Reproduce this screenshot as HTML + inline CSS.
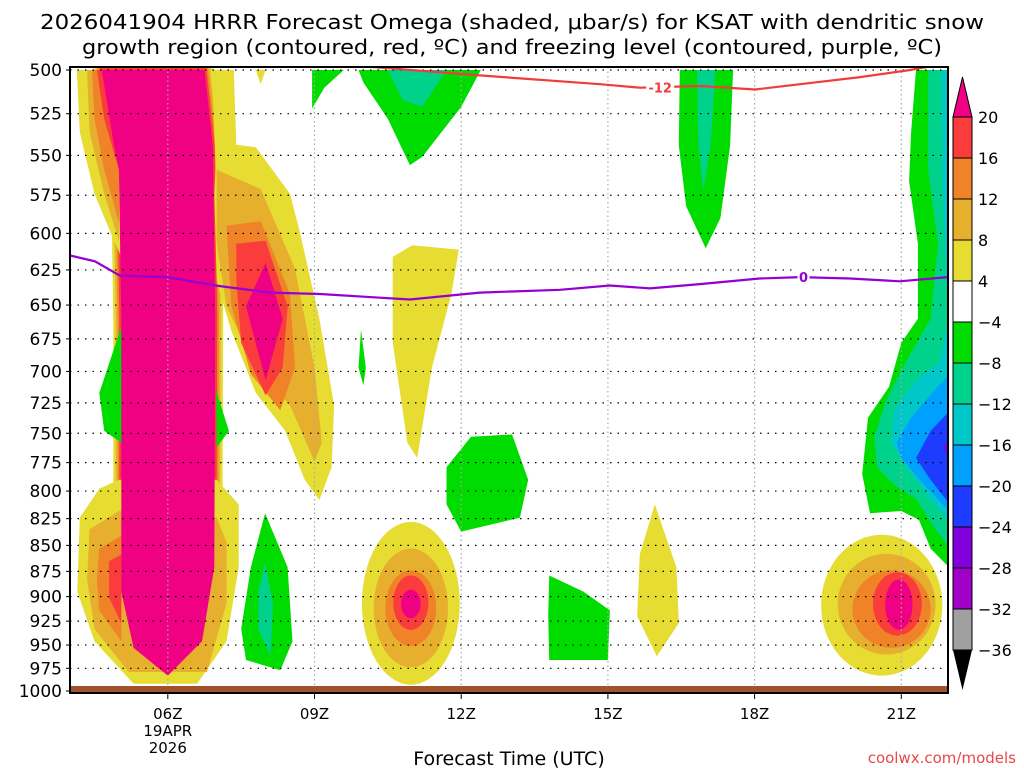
<!DOCTYPE html>
<html><head><meta charset="utf-8"><style>
html,body{margin:0;padding:0;background:#fff;width:1024px;height:768px;overflow:hidden}
svg{display:block}
text{font-family:"DejaVu Sans","Liberation Sans",sans-serif}
</style></head><body>
<svg id="chart" width="1024" height="768" viewBox="0 0 1024 768" xmlns="http://www.w3.org/2000/svg">
<defs><clipPath id="plotclip"><rect x="70" y="67" width="878" height="626"/></clipPath></defs>
<text x="512" y="29" font-size="20" text-anchor="middle" textLength="944" lengthAdjust="spacingAndGlyphs">2026041904 HRRR Forecast Omega (shaded, μbar/s) for KSAT with dendritic snow</text>
<text x="512" y="54" font-size="20" text-anchor="middle" textLength="860" lengthAdjust="spacingAndGlyphs">growth region (contoured, red, ºC) and freezing level (contoured, purple, ºC)</text>
<g id="shades" clip-path="url(#plotclip)"></g>
<g id="grid"></g>
<g id="lines" clip-path="url(#plotclip)"></g>
<rect x="70" y="686" width="878" height="7" fill="#a0522d"/>
<rect x="70" y="67" width="878" height="626" fill="none" stroke="#000" stroke-width="2"/>
<g id="axes"></g>
<g id="cbar"></g>
<text x="509" y="765" font-size="19" text-anchor="middle" font-family="Liberation Sans, sans-serif">Forecast Time (UTC)</text>
<text x="1016" y="763" font-size="15" text-anchor="end" fill="#e84848" font-family="Liberation Sans, sans-serif">coolwx.com/models</text>
</svg>
<script>
// ---- data ----
const pressureTicks = [500,525,550,575,600,625,650,675,700,725,750,775,800,825,850,875,900,925,950,975,1000];
const timeTickHours = [6,9,12,15,18,21];
const timeTickLabels = ["06Z","09Z","12Z","15Z","18Z","21Z"];
const cbarLevels = [20,16,12,8,4,-4,-8,-12,-16,-20,-24,-28,-32,-36];
const cbarColors = ["#fa3c3c","#f08228","#e6af2d","#e6dc32","#ffffff","#00dc00","#00d28c","#00c8c8","#00a0ff","#1e3cff","#8200dc","#a000c8","#a0a0a0"];
const freezingHours = [4.0,4.51,5.02,5.98,6.97,8.09,9.11,10.95,12.38,14.02,15.04,15.86,16.88,18.1,18.93,19.95,20.97,21.95];
const freezingP =     [615,619,629,630,636,641,642,646,641,639,636,638,635,631,630,631,633,630];
const dgzHours = [10.03,12.38,14.84,15.66,16.88,18.01,18.93,20.16,21.18,21.59];
const dgzP =     [498,503,508,510,509,511,508,504,500,498];
const colorByKey = {y:"#e6dc32",lo:"#e6af2d",o:"#f08228",r:"#fa3c3c",p:"#f00082",g:"#00dc00",t1:"#00d28c",t2:"#00c8c8",b1:"#00a0ff",b2:"#1e3cff",pu:"#8200dc"};
// polygons in (hour since 00Z, hPa)
const polyShades = [
 ["y",[[4.14,500],[5.0,500],[5.05,616],[4.9,605],[4.5,574],[4.2,536]]],
 ["lo",[[4.35,500],[5,500],[5,605],[4.7,574],[4.4,536]]],
 ["o",[[4.45,500],[5,500],[5,593],[4.7,559],[4.5,528]]],
 ["r",[[4.55,500],[5,500],[5,559],[4.7,528]]],
 ["y",[[6.9,500],[7.35,500],[7.4,544],[7.0,574]]],
 ["y",[[7.0,542],[7.8,545],[8.5,574],[8.7,599],[9.1,660],[9.4,727],[9.35,779],[9.1,808],[8.8,790],[8.4,748],[7.8,717],[7.3,669],[7.0,633],[6.95,574]]],
 ["lo",[[7.0,559],[7.9,571],[8.6,624],[9.0,697],[9.15,758],[9.0,774],[8.5,727],[7.8,697],[7.2,651],[7.0,607]]],
 ["o",[[7.2,595],[7.9,592],[8.5,642],[8.6,697],[8.3,731],[7.7,702],[7.3,651]]],
 ["r",[[7.4,607],[8.0,605],[8.45,651],[8.35,697],[8.0,719],[7.5,678],[7.4,633]]],
 ["p",[[7.6,651],[8.0,620],[8.35,660],[8.0,707]]],
 ["y",[[4.2,824],[4.6,798],[5.0,790],[7.0,790],[7.45,812],[7.45,871],[7.2,946],[6.6,992],[5.3,992],[4.5,946],[4.15,895]]],
 ["lo",[[4.4,835],[5,818],[7,824],[7.2,847],[7.2,907],[6.8,979],[5.2,979],[4.5,933],[4.35,883]]],
 ["o",[[4.6,853],[5.05,841],[5.05,946],[4.6,914],[4.55,883]]],
 ["r",[[4.8,865],[5.05,859],[5.05,927],[4.8,901]]],
 ["g",[[4.6,717],[5.05,666],[5.05,758],[4.7,748]]],
 ["g",[[6.99,715],[7.25,748],[7.0,762]]],
 ["g",[[7.99,820],[8.45,871],[8.55,946],[8.3,977],[7.6,966],[7.5,933],[7.7,871]]],
 ["t1",[[7.99,866],[8.15,907],[8.1,962],[7.85,933],[7.85,895]]],
 ["g",[[8.95,500],[9.6,500],[9.2,510],[8.95,522]]],
 ["y",[[7.8,500],[8.0,500],[7.9,508]]],
 ["g",[[9.9,500],[12.4,500],[12.0,521],[11.2,551],[10.95,556],[10.5,528],[10.0,507]]],
 ["t1",[[10.5,500],[11.7,500],[11.2,521],[10.8,517]]],
 ["y",[[10.6,616],[11.0,608],[11.95,611],[11.8,642],[11.4,697],[11.1,771],[10.9,758],[10.6,678]]],
 ["g",[[9.95,668],[10.05,697],[10.0,711],[9.9,697]]],
 ["g",[[11.7,779],[12.2,753],[13.04,751],[13.37,790],[13.2,824],[12.0,837],[11.7,812]]],
 ["g",[[13.8,879],[14.5,895],[15.04,914],[15.0,966],[13.8,966],[13.78,920]]],
 ["y",[[15.96,812],[16.4,871],[16.45,927],[16.0,962],[15.6,920],[15.65,859]]],
 ["g",[[16.47,500],[17.56,500],[17.5,544],[17.3,590],[17.0,610],[16.6,582],[16.45,544]]],
 ["t1",[[16.82,500],[17.2,500],[17.1,544],[16.95,572],[16.85,544]]],
 ["g",[[21.3,500],[22.1,500],[22.1,877],[21.6,853],[21.36,826],[21.0,818],[20.36,820],[20.2,785],[20.32,737],[20.75,712],[21.0,678],[21.34,660],[21.34,607],[21.16,566],[21.2,536]]],
 ["t1",[[21.55,500],[22.1,500],[22.1,859],[21.7,835],[21.3,807],[20.9,796],[20.5,779],[20.45,753],[20.7,722],[21.1,692],[21.6,660],[21.75,607],[21.55,559]]],
 ["t2",[[21.83,500],[22.1,500],[22.1,835],[21.6,807],[21.1,779],[20.8,758],[20.85,731],[21.3,707],[21.8,692],[21.95,660],[21.85,574]]],
 ["b1",[[22.1,697],[22.1,824],[21.5,796],[21.0,771],[20.9,758],[21.2,737],[21.7,714]]],
 ["b2",[[22.1,727],[22.1,818],[21.6,790],[21.3,771],[21.6,748]]],
 ["pu",[[22.1,751],[22.1,774],[21.85,762]]]
];
// ellipse blobs: [hour, topHPa, bottomHPa, radiusHours, key]
const blobShades = [
 [10.97,828,993,1.0,"y"],[10.97,853,974,0.76,"lo"],[10.97,874,951,0.52,"o"],[10.97,879,934,0.36,"r"],[10.97,893,922,0.2,"p"],
 [20.6,840,983,1.24,"y"],[20.7,858,960,1.0,"lo"],[20.8,874,953,0.8,"o"],[20.92,876,940,0.5,"r"],[20.95,883,934,0.28,"p"]
];
const columnPoly = [[4.65,500],[6.75,500],[6.92,544],[6.97,660],[6.95,871],[6.7,946],[6.0,983],[5.3,953],[5.05,895],[5.05,660],[5.0,559],[4.9,544]];

// ---- axes ----
const X = h => 70 + (h - 4) * 48.9;
const Y = p => 70 + Math.log2(p / 500) * 621;
const NS = "http://www.w3.org/2000/svg";
function mk(tag, parent, attrs){const e=document.createElementNS(NS,tag);for(const k in attrs)e.setAttribute(k,attrs[k]);parent.appendChild(e);return e;}
const ptsStr = arr => arr.map(q => X(q[0]).toFixed(1)+","+Y(q[1]).toFixed(1)).join(" ");

const shades = document.getElementById("shades");
[["#e6dc32",16],["#e6af2d",11],["#f08228",7],["#fa3c3c",4]].forEach(s=>{
  const e = mk("polygon", shades, {points: ptsStr(columnPoly), fill:"none", stroke:s[0], "stroke-width":s[1], "stroke-linejoin":"round"});
  
  
});
polyShades.forEach(ps=>{
  const e = mk("polygon", shades, {points: ptsStr(ps[1]), fill: colorByKey[ps[0]]});
  
  
});
blobShades.forEach(b=>{
  const y1 = Y(b[1]), y2 = Y(b[2]);
  const e = mk("ellipse", shades, {cx:X(b[0]), cy:(y1+y2)/2, rx:b[3]*48.9, ry:(y2-y1)/2, fill: colorByKey[b[4]]});
  
  
});
const col = mk("polygon", shades, {points: ptsStr(columnPoly), fill:"#f00082"});



// grid
const grid = document.getElementById("grid");
pressureTicks.forEach(p=>{
  const l = mk("line", grid, {x1:70, x2:948, y1:Y(p), y2:Y(p), stroke:"#000", "stroke-width":1.2, "stroke-dasharray":"1.5 6"});
  
  
});
timeTickHours.forEach(h=>{
  const l = mk("line", grid, {x1:X(h), x2:X(h), y1:67, y2:693, stroke:"#aaa", "stroke-width":1.2, "stroke-dasharray":"1.5 3"});
  
  
});

// contour lines
const lines = document.getElementById("lines");
const fz = mk("polyline", lines, {points: freezingHours.map((h,i)=>X(h).toFixed(1)+","+Y(freezingP[i]).toFixed(1)).join(" "), fill:"none", stroke:"#9400d3", "stroke-width":2.2});


const dg = mk("polyline", lines, {points: dgzHours.map((h,i)=>X(h).toFixed(1)+","+Y(dgzP[i]).toFixed(1)).join(" "), fill:"none", stroke:"#f03c3c", "stroke-width":2.2});


const lb1 = mk("rect", lines, {x:X(16.07)-14, y:Y(510)-8, width:28, height:14, fill:"#fff"});


const t1 = mk("text", lines, {x:X(16.07), y:Y(510)+5, "font-size":13, "font-weight":"bold", fill:"#f03c3c", "text-anchor":"middle"});
t1.textContent = "-12";


const lb2 = mk("rect", lines, {x:X(19.0)-6, y:Y(630)-8, width:12, height:14, fill:"#fff"});


const t2 = mk("text", lines, {x:X(19.0), y:Y(630)+5, "font-size":13, "font-weight":"bold", fill:"#9400d3", "text-anchor":"middle"});
t2.textContent = "0";



// axes labels
const axes = document.getElementById("axes");
pressureTicks.forEach(p=>{
  const t = mk("text", axes, {x:62, y:Y(p)+6, "font-size":17, "text-anchor":"end", "font-family":"Liberation Sans, sans-serif"});
  t.textContent = p;
  
  
  const k = mk("line", axes, {x1:66, x2:70, y1:Y(p), y2:Y(p), stroke:"#000"});
  
  
});
timeTickHours.forEach((h,i)=>{
  const k = mk("line", axes, {x1:X(h), x2:X(h), y1:693, y2:699, stroke:"#000"});
  
  
  const t = mk("text", axes, {x:X(h), y:719, "font-size":15, "text-anchor":"middle", "font-family":"Liberation Sans, sans-serif"});
  t.textContent = timeTickLabels[i];
  
  
});
["19APR","2026"].forEach((s,i)=>{
  const t = mk("text", axes, {x:X(6), y:736+i*17, "font-size":15, "text-anchor":"middle", "font-family":"Liberation Sans, sans-serif"});
  t.textContent = s;
  
  
});

// colorbar
const cb = document.getElementById("cbar");
const cx0 = 953, cw = 19, ctop = 117, seg = 41;
const up = mk("polygon", cb, {points:`${cx0},${ctop} ${cx0+cw},${ctop} ${cx0+cw/2},${ctop-40}`, fill:"#f00082", stroke:"#000", "stroke-width":1});


cbarColors.forEach((c,i)=>{
  const r = mk("rect", cb, {x:cx0, y:ctop+i*seg, width:cw, height:seg, fill:c, stroke:"#000", "stroke-width":1});
  
  
});
const ybot = ctop + cbarColors.length*seg;
const dn = mk("polygon", cb, {points:`${cx0},${ybot} ${cx0+cw},${ybot} ${cx0+cw/2},${ybot+40}`, fill:"#000"});


cbarLevels.forEach((v,i)=>{
  const t = mk("text", cb, {x:978, y:ctop+i*seg+6, "font-size":16, "font-family":"Liberation Sans, sans-serif"});
  t.textContent = v < 0 ? "\u2212" + Math.abs(v) : v;
  
  
});
</script>
</body></html>
